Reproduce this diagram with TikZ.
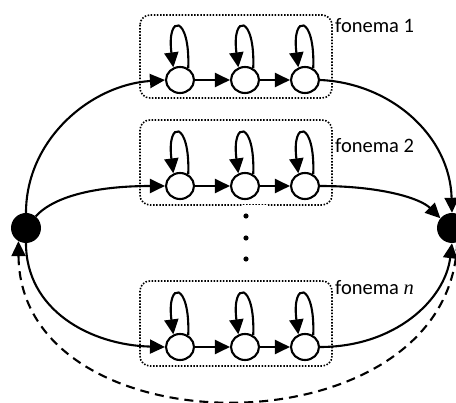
\documentclass[tikz,border=0pt]{standalone}
\usepackage{fontspec}
\setmainfont{Carlito}
\newfontfamily\nserif{Liberation Serif}
\usetikzlibrary{arrows.meta,shapes.geometric}
\begin{document}
\begin{tikzpicture}[x=1pt,y=-1pt,
  st/.style={ellipse,draw,line width=2.1pt,minimum width=28pt,minimum height=26pt,inner sep=0pt,fill=white},
  bigdot/.style={circle,fill=black,minimum size=30pt,inner sep=0pt},
  arr/.style={line width=2.1pt,-{Triangle[length=15pt,width=14pt]}},
  grp/.style={draw,line width=1.6pt,dash pattern=on 1.5pt off 1.6pt,rounded corners=10pt},
  lbl/.style={font=\fontsize{20.5}{24}\selectfont,inner sep=0pt,anchor=base west},
  dashedarr/.style={arr,dash pattern=on 9pt off 6pt}]
\useasboundingbox (0,0) rectangle (456,403);
\clip (0,0) rectangle (456,403);
% group boxes
\draw[grp] (140,15) rectangle (332,98);
\draw[grp] (140,120) rectangle (332,205);
\draw[grp] (140,281) rectangle (332,366);
\node[fill=white,minimum width=26pt,minimum height=66pt,inner sep=0pt] (gap) at (255,238) {};
% labels
\node[lbl] (l1) at (335,33) {fonema 1};
\node[lbl] (l2) at (335,153) {fonema 2};
\node[lbl] (l3) at (335,295) {fonema {\nserif\itshape n}};
% vertical dots
\fill (246,216) circle (2.6pt);
\fill (246,238) circle (2.6pt);
\fill (246,259) circle (2.6pt);
% start / end nodes
\node[bigdot] (L) at (26,228) {};
\node[bigdot] (R) at (452,228) {};
% states
\foreach \r/\y in {a/80,b/186,c/347}{
  \node[st] (\r1) at (180,\y) {};
  \node[st] (\r2) at (245,\y) {};
  \node[st] (\r3) at (305,\y) {};
  \draw[arr] (\r1) -- (\r2);
  \draw[arr] (\r2) -- (\r3);
  \foreach \i in {1,2,3}{
    \draw[arr] (\r\i.55) .. controls +(2,-54) and +(-7,-54) .. (\r\i.118);
  }
}
% entry arcs
\draw[arr] (L.north) .. controls (26,140) and (90,85) .. (a1.west);
\draw[arr] (L.50) .. controls (55,195) and (100,186) .. (b1.west);
\draw[arr] (L.south) .. controls (26,310) and (90,345) .. (c1.west);
% exit arcs
\draw[arr] (a3.east) .. controls (390,83) and (450,135) .. (R.north);
\draw[arr] (b3.east) .. controls (380,186) and (420,198) .. (R.140);
\draw[arr] (c3.east) .. controls (395,347) and (445,300) .. (R.south);
% return arc
\draw[dashedarr] (R.-70) .. controls (450,454) and (20,454) .. (L.240);
\end{tikzpicture}
\end{document}
